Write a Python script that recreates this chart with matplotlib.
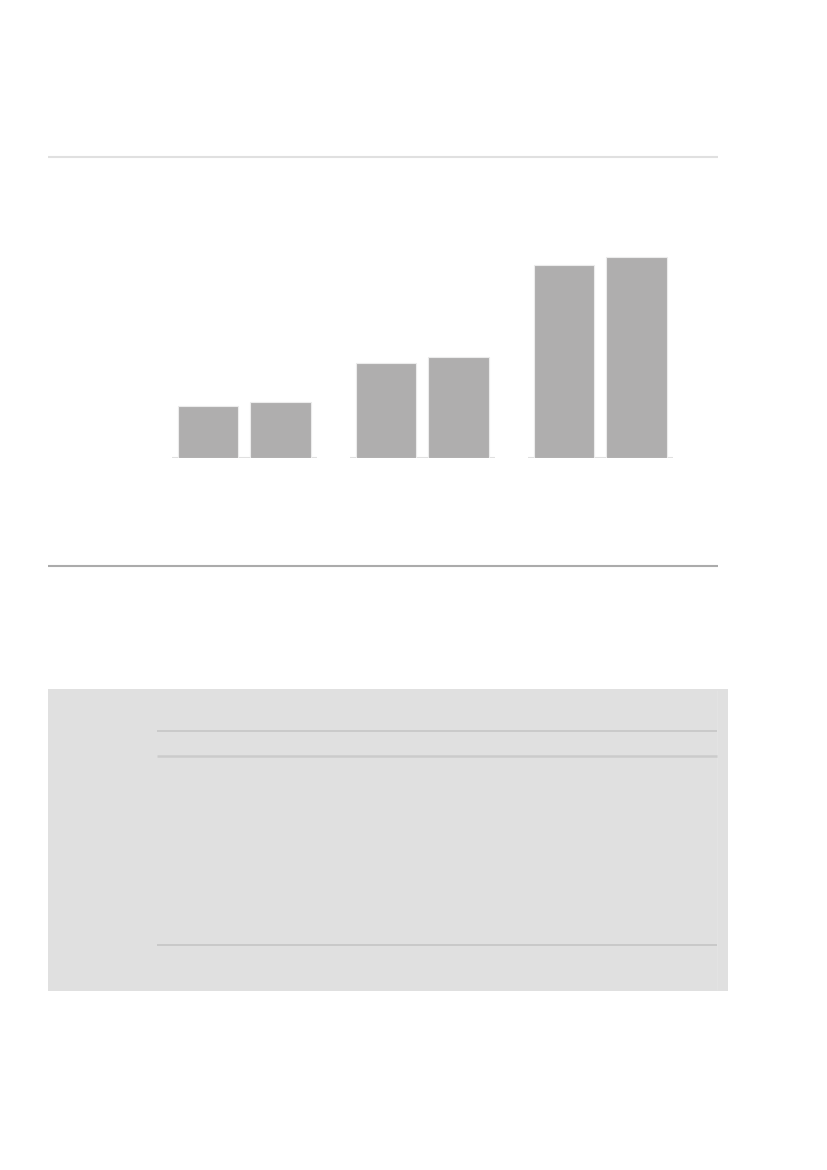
import matplotlib
matplotlib.use("Agg")
import matplotlib.pyplot as plt
import numpy as np

# Data
groups = ["A", "B", "C"]
series1 = [2.58, 4.77, 9.63]
series2 = [2.78, 5.07, 10.05]

W, H = 827, 1170
fig = plt.figure(figsize=(W / 100, H / 100), dpi=100)
fig.patch.set_facecolor("white")

# Overlay axes in pixel coordinates for the layout rules/panels
ov = fig.add_axes([0, 0, 1, 1])
ov.set_xlim(0, W)
ov.set_ylim(H, 0)
ov.axis("off")

# top and bottom rules around the chart
ov.plot([48, 718], [157, 157], color="#e0e0e0", lw=1.5, solid_capstyle="butt")
ov.plot([48, 718], [566, 566], color="#ababab", lw=1.5, solid_capstyle="butt")

# grey panel with table rules
ov.add_patch(plt.Rectangle((48, 689), 679.5, 302, facecolor="#e0e0e0", edgecolor="none"))
ov.plot([717, 717], [689.5, 990], color="#e3e3e3", lw=0.8, solid_capstyle="butt")
ov.plot([157, 717], [731.3, 731.3], color="#c4c4c4", lw=1.1, solid_capstyle="butt")
ov.plot([157, 717], [756, 756], color="#cbcbcb", lw=1.8, solid_capstyle="butt")
ov.plot([157, 717], [945.3, 945.3], color="#c2c2c2", lw=1.1, solid_capstyle="butt")

# Bar axes
px_left, px_right = 150, 700
base_px, ax_h_px = 458, 220
spacing = 178.0
center0 = 244.4
ax = fig.add_axes([px_left / W, (H - base_px) / H, (px_right - px_left) / W, ax_h_px / H])
ax.set_xlim((px_left - center0) / spacing, (px_right - center0) / spacing)
ax.set_ylim(0, ax_h_px / 20.0)
ax.axis("off")

x = np.arange(len(groups))
bw = 60.8 / spacing
off = 36.4 / spacing
pad = 5.5 / spacing
ax.hlines(np.zeros(len(x)), x - off - bw / 2 - pad, x + off + bw / 2 + pad,
          color="#e0e0e0", lw=1.5, zorder=1)
ax.bar(x - off, series1, width=bw, color="#afaeae", edgecolor="#ececec", linewidth=0.8, zorder=2)
ax.bar(x + off, series2, width=bw, color="#afaeae", edgecolor="#ececec", linewidth=0.8, zorder=2)

fig.savefig("out.png", dpi=100, facecolor="white")
